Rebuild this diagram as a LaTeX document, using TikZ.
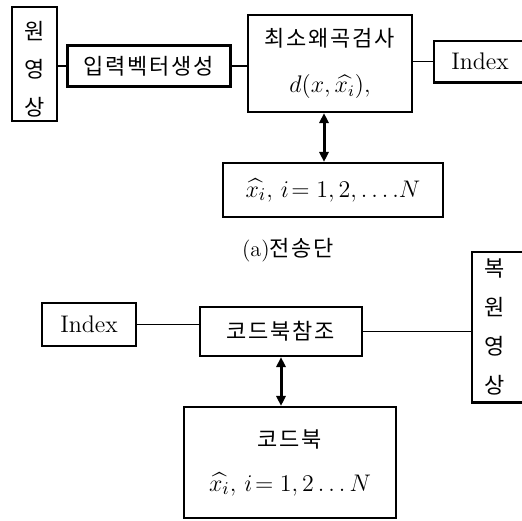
\documentclass[tikz,border=0pt]{standalone}
\usepackage{fontspec}
\usepackage{amsmath,amssymb}
\newfontfamily\kr[LetterSpace=8]{Noto Sans CJK KR}
\usetikzlibrary{arrows.meta}

\begin{document}
\begin{tikzpicture}[x=0.5pt,y=-0.5pt,font=\fontsize{12}{14}\selectfont,
  bx/.style={draw=black,line width=1.1pt,align=center,inner sep=0pt,fill=white},
  obx/.style={align=center,inner sep=0pt},
  edge/.style={line width=1.1pt},
  vt/.style={font=\kr\fontsize{11}{19}\selectfont},
  ko/.style={font=\kr\fontsize{11}{13}\selectfont},
  ln/.style={line width=0.8pt},
  dar/.style={{Triangle[length=5pt,width=4.6pt]}-{Triangle[length=5pt,width=4.6pt]},line width=1.5pt}]
  \useasboundingbox (0,0) rectangle (522,520);
  \clip (0,0) rectangle (522,520);
  % (a) sender side
  \node[bx,vt,minimum width=22.5pt,minimum height=57pt] (src) at (34.5,64) {\rule{0pt}{14pt}원\\영\\상};
  \node[bx,ko,minimum width=81.5pt,minimum height=20.5pt] (vec) at (149,66) {입력벡터생성};
  \node[bx,minimum width=82pt,minimum height=48.5pt] (dist) at (330,63.5)
    {{\kr\fontsize{11}{13}\selectfont 최소왜곡검사}\\[9pt] $d(x,\widehat{x_i}),$};
  \node[obx,minimum width=46pt,minimum height=20.5pt] (idxa) at (480,61.5) {Index};
  \draw[edge] ([xshift=20pt]idxa.north east) -- (idxa.north west) -- (idxa.south west) -- ([xshift=20pt]idxa.south east);
  \node[bx,minimum width=110pt,minimum height=27pt,font=\fontsize{13}{15}\selectfont] (cbka) at (333,190)
    {$\widehat{x_i},\, i\!=1,2,\ldots.N$};
  \node (capa) at (288,250) {\fontsize{11}{13}\selectfont(a)\kr 전송단};
  \draw[ln] (src.east |- vec.west) -- (vec.west);
  \draw[ln] (vec.east) -- (vec.east -| dist.west);
  \draw[ln] (dist.east |- idxa.west) -- (idxa.west);
  \draw[dar] ([xshift=-3pt]dist.south) -- ([xshift=-3pt]dist.south |- cbka.north);
  % receiver side
  \node[bx,minimum width=47pt,minimum height=21.5pt] (idxb) at (89,324.5) {Index};
  \node[bx,ko,minimum width=81pt,minimum height=24.5pt] (look) at (281,331.5) {코드북참조};
  \node[obx,minimum width=23pt,minimum height=75pt,font=\kr\fontsize{11}{19.5}\selectfont] (out) at (495,327) {복\\원\\영\\상};
  \draw[edge] ([xshift=20pt]out.north east) -- (out.north west) -- (out.south west) -- ([xshift=20pt]out.south east);
  \node[bx,minimum width=106pt,minimum height=55.5pt] (cbkb) at (290,462.5)
    {{\kr\fontsize{11}{13}\selectfont 코드북}\\[8pt] {\fontsize{13}{15}\selectfont$\widehat{x_i},\, i\!=1,2\ldots N$}};
  \draw[ln] (idxb.east) -- (idxb.east -| look.west);
  \draw[ln] (look.east) -- (look.east -| out.west);
  \draw[dar] (look.south) -- (look.south |- cbkb.north);
\end{tikzpicture}
\end{document}
